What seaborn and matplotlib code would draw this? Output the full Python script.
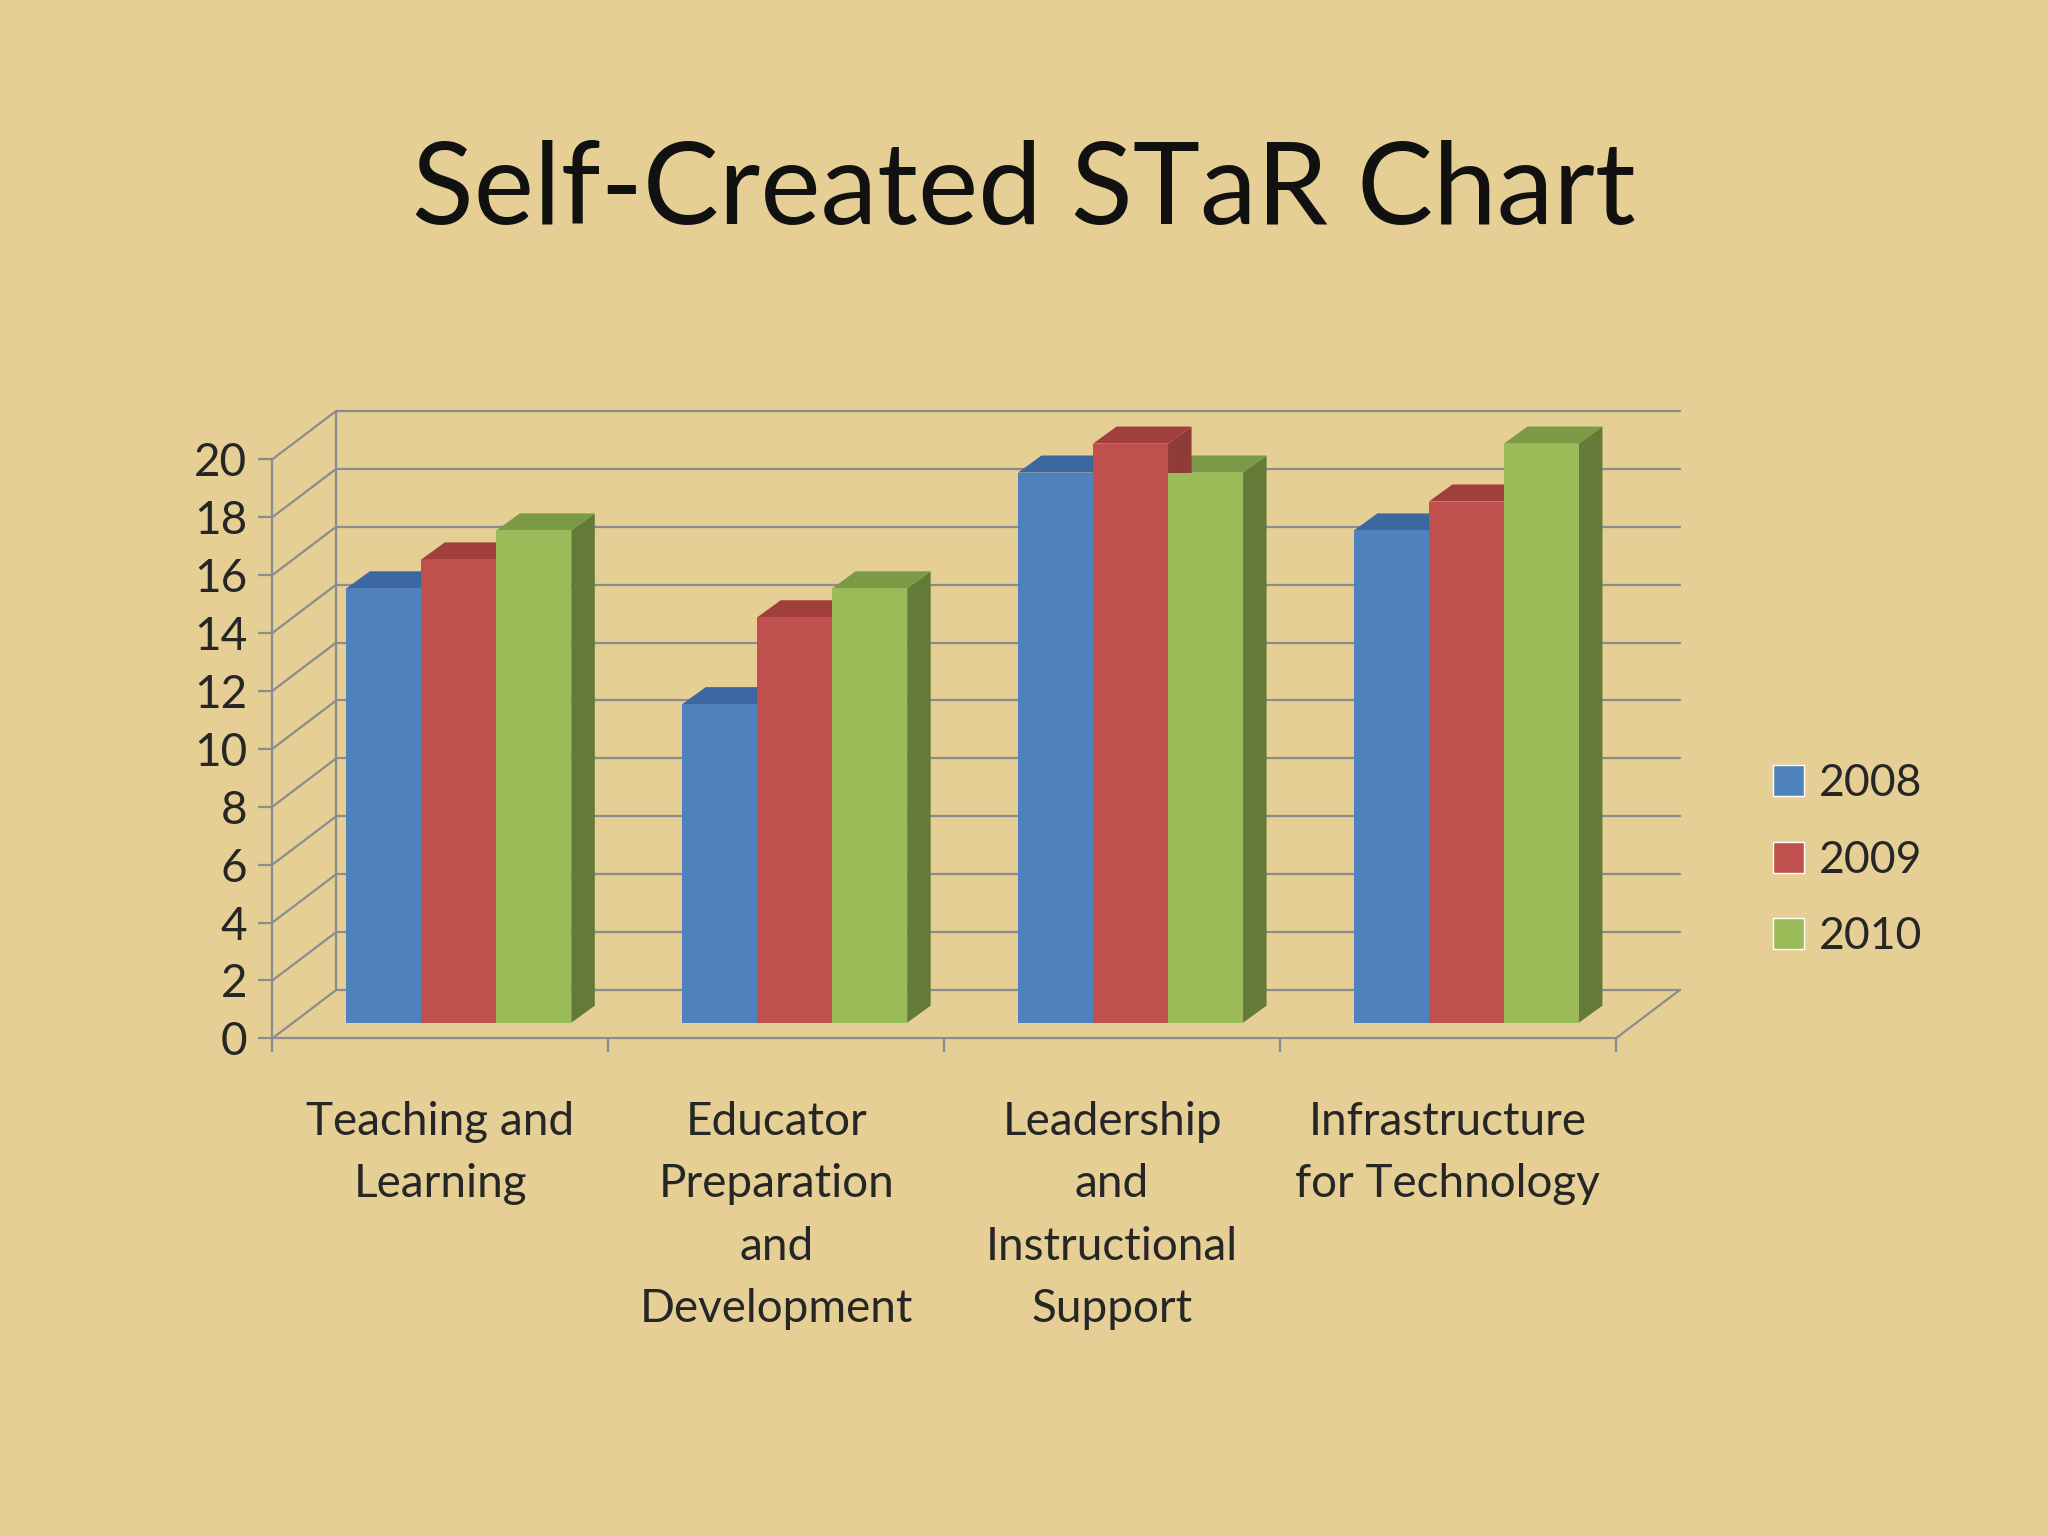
import matplotlib
matplotlib.use("Agg")
import matplotlib.pyplot as plt
import seaborn as sns
import pandas as pd
from matplotlib.patches import Polygon

categories = ["Teaching and\nLearning", "Educator\nPreparation\nand\nDevelopment",
              "Leadership\nand\nInstructional\nSupport", "Infrastructure\nfor Technology"]
years = ["2008", "2009", "2010"]
v2008 = [15, 11, 19, 17]
v2009 = [16, 14, 20, 18]
v2010 = [17, 15, 19, 20]
colors = ["#4F81BD", "#C0504D", "#9BBB59"]
side_colors = ["#3A5F8C", "#8E3B39", "#637B37"]
top_colors = ["#3D67A0", "#A03F3C", "#7A9A45"]

rows = []
for y, vals in zip(years, [v2008, v2009, v2010]):
    for c, v in zip(categories, vals):
        rows.append({"cat": c, "year": y, "val": v})
df = pd.DataFrame(rows)

sns.set_theme(style="white")
plt.rcParams['font.family'] = ['Lato', 'DejaVu Sans']
bg = "#E6CF95"
fig = plt.figure(figsize=(20.48, 15.36), dpi=100, facecolor=bg)
ax = fig.add_axes([0.133, 0.324, 0.656, 0.377])
ax.set_facecolor("none")

ax.set_xlim(-0.5, 3.5)
ax.set_ylim(0, 20)
gx, gy = 0.19, 1.67
grid_c = "#8A8C8E"
for t in range(0, 21, 2):
    ax.plot([-0.5 + gx, 3.5 + gx], [t + gy, t + gy], color=grid_c, lw=1.6, clip_on=False, zorder=0)
    ax.plot([-0.5, -0.5 + gx], [t, t + gy], color=grid_c, lw=1.6, clip_on=False, zorder=0)
ax.plot([-0.5 + gx, -0.5 + gx], [gy, 20 + gy], color=grid_c, lw=1.6, clip_on=False, zorder=0)
ax.plot([3.5, 3.5 + gx], [0, gy], color=grid_c, lw=1.6, clip_on=False, zorder=0)

sns.barplot(data=df, x="cat", y="val", hue="year", palette=colors, width=0.67,
            saturation=1, ax=ax, legend=True, zorder=3)
ox, oy = 0.055, 0.54
dx, dy = 0.07, 0.59
for i, cont in enumerate(ax.containers):
    for p in cont.patches:
        x0, w, h = p.get_x() + ox, p.get_width(), p.get_height()
        p.set_x(x0)
        p.set_y(oy)
        p.set_clip_on(False)
        p.set_edgecolor("none")
        x1 = x0 + w
        top = h + oy
        ax.add_patch(Polygon([(x1, oy), (x1 + dx, oy + dy), (x1 + dx, top + dy), (x1, top)],
                             closed=True, fc=side_colors[i], ec="none", zorder=2 + (3 - i) * 0.1, clip_on=False))
        ax.add_patch(Polygon([(x0, top), (x0 + dx, top + dy), (x1 + dx, top + dy), (x1, top)],
                             closed=True, fc=top_colors[i], ec="none", zorder=2 + (3 - i) * 0.1, clip_on=False))

for s in ["top", "right"]:
    ax.spines[s].set_visible(False)
for s in ["left", "bottom"]:
    ax.spines[s].set_color(grid_c)
    ax.spines[s].set_linewidth(1.6)
ax.set_yticks(range(0, 21, 2))
ax.set_xticks([-0.5, 0.5, 1.5, 2.5, 3.5], minor=True)
ax.set_xticks(range(4))
ax.tick_params(axis="x", which="major", length=0, pad=45, labelsize=33)
for lab in ax.get_xticklabels():
    lab.set_linespacing(1.6)
ax.tick_params(axis="x", which="minor", length=10, color=grid_c, width=1.6, direction="out", bottom=True)
ax.tick_params(axis="y", length=10, color=grid_c, width=1.6, direction="out", left=True, labelsize=33, pad=8)
ax.set_xlabel("")
ax.set_ylabel("")

handles, labels = ax.get_legend_handles_labels()
leg = fig.legend(handles, labels, loc="center left", bbox_to_anchor=(0.846, 0.44),
                 frameon=False, fontsize=32, handlelength=0.7, handleheight=0.7,
                 labelspacing=0.8, handletextpad=0.35)
ax.get_legend().remove()

fig.text(0.5, 0.875, "Self-Created STaR Chart", ha="center", va="center", fontsize=82, color="#111111")
fig.savefig("out.png", dpi=100, facecolor=bg)
